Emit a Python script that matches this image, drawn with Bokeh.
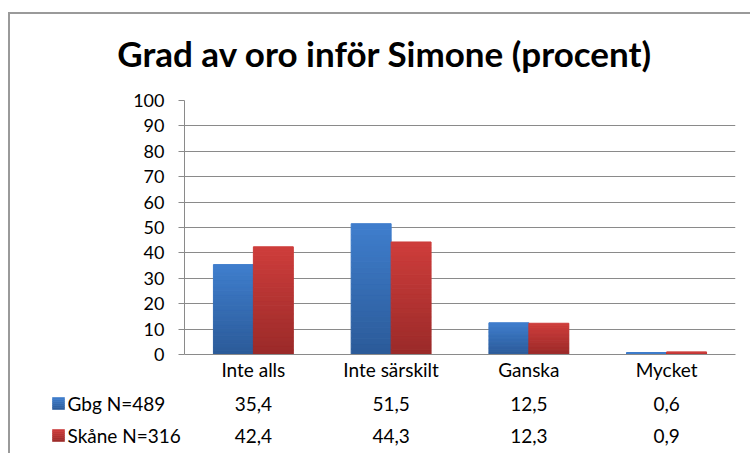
from bokeh.plotting import figure
from bokeh.models import ColumnDataSource, FactorRange, FixedTicker, Range1d
from bokeh.layouts import column, row
from bokeh.transform import dodge
from bokeh.core.properties import value
from bokeh.embed import file_html
from bokeh.resources import INLINE

# ---- data ----
categories = ["Inte alls", "Inte särskilt", "Ganska", "Mycket"]
series_names = ["Gbg N=489", "Skåne N=316"]
gbg = [35.4, 51.5, 12.5, 0.6]
skane = [42.4, 44.3, 12.3, 0.9]
gbg_text = ["35,4", "51,5", "12,5", "0,6"]
skane_text = ["42,4", "44,3", "12,3", "0,9"]
y_ticks = [0, 10, 20, 30, 40, 50, 60, 70, 80, 90, 100]
title_text = "Grad av oro inför Simone (procent)"

FONT = "Lato"
blue_top, blue_bot = (0x3F, 0x7E, 0xCD), (0x2B, 0x5A, 0x98)
red_top, red_bot = (0xCE, 0x3D, 0x3B), (0x9A, 0x2A, 0x29)
GRID = "#8a8a8a"


def hexc(c):
    return "#%02x%02x%02x" % tuple(int(round(v)) for v in c)


def grad(top_c, bot_c, t):
    return hexc(tuple(b + (a - b) * t for a, b in zip(top_c, bot_c)))


def stripes(vals, top_c, bot_c, n=24):
    cats, bots, tops, cols = [], [], [], []
    for cat, v in zip(categories, vals):
        for i in range(n):
            cats.append(cat)
            bots.append(v * i / n)
            tops.append(v * (i + 1) / n)
            cols.append(grad(top_c, bot_c, (i + 0.5) / n))
    return ColumnDataSource(dict(cat=cats, bottom=bots, top=tops, color=cols))


def blank(width, height, x_range, y_range, **kw):
    f = figure(x_range=x_range, y_range=y_range, width=width, height=height,
               output_backend="svg", toolbar_location=None,
               x_axis_location=None, y_axis_location=None,
               min_border_left=kw.get("ml", 0), min_border_right=kw.get("mr", 0),
               min_border_top=0, min_border_bottom=0)
    f.outline_line_color = None
    f.grid.visible = False
    f.border_fill_color = "white"
    return f


TOTAL_W = 742

# ---------------- title ----------------
TTH = 75
ttl = blank(TOTAL_W, TTH, Range1d(0, TOTAL_W), Range1d(0, TTH))
ttl.text(x=[374.5], y=[37], text=[title_text], text_font=value(FONT),
         text_font_style="bold", text_font_size="35px", text_align="center",
         text_baseline="middle", text_color="#000000")

# ---------------- main chart ----------------
CH = 296
x_range = FactorRange(*categories, range_padding=0)
p = figure(x_range=x_range, y_range=(0, 100),
           width=TOTAL_W, height=CH, output_backend="svg", toolbar_location=None,
           min_border_left=174, min_border_right=17, min_border_top=11,
           min_border_bottom=31)
p.outline_line_color = None
p.background_fill_color = "white"
p.border_fill_color = "white"

bw = 0.29
for vals, tc, bc, off in [(gbg, blue_top, blue_bot, -bw / 2), (skane, red_top, red_bot, bw / 2)]:
    p.vbar(x=dodge("cat", off, range=x_range), bottom="bottom", top="top",
           width=bw, source=stripes(vals, tc, bc), fill_color="color",
           line_color="color", line_width=1)

p.yaxis.ticker = FixedTicker(ticks=y_ticks)
p.yaxis.minor_tick_line_color = None
p.yaxis.major_tick_in = 0
p.yaxis.major_tick_out = 6
p.yaxis.major_label_standoff = 14
p.yaxis.axis_line_color = GRID
p.yaxis.major_tick_line_color = GRID
p.yaxis.major_label_text_font = FONT
p.yaxis.major_label_text_font_size = "18px"
p.yaxis.major_label_text_color = "#000000"

p.xaxis.axis_line_color = GRID
p.xaxis.major_tick_line_color = None
p.xaxis.major_tick_out = 0
p.xaxis.major_tick_in = 0
p.xaxis.major_label_standoff = 3
p.xaxis.major_label_text_font = FONT
p.xaxis.major_label_text_font_size = "19px"
p.xaxis.major_label_text_color = "#000000"

p.xgrid.grid_line_color = None
p.ygrid.grid_line_color = GRID
p.ygrid.grid_line_width = 1

# ---------------- data table ----------------
TH = 70
row_y = [1, 0]
y_tab = Range1d(-0.625, 1.5625)

leg = blank(174, TH, Range1d(0, 174), y_tab)
kb, kt, kl, kr, kcol = [], [], [], [], []
half = 6 / 32
for yy, tc, bc in [(row_y[0], blue_top, blue_bot), (row_y[1], red_top, red_bot)]:
    n = 6
    for i in range(n):
        kl.append(42)
        kr.append(54)
        kb.append(yy - half + 2 * half * i / n)
        kt.append(yy - half + 2 * half * (i + 1) / n)
        kcol.append(grad(tc, bc, (i + 0.5) / n))
leg.quad(left=kl, right=kr, bottom=kb, top=kt, fill_color=kcol, line_color=kcol, line_width=0.6)
leg.text(x=[57, 57], y=row_y, text=series_names, text_font=value(FONT),
         text_font_size="19px", text_baseline="middle", text_align="left",
         text_color="#000000")

tab = blank(TOTAL_W - 174, TH, x_range, y_tab, mr=17)
tsrc = ColumnDataSource(dict(cat=categories * 2, y=[row_y[0]] * 4 + [row_y[1]] * 4,
                             txt=gbg_text + skane_text))
tab.text(x="cat", y="y", text="txt", source=tsrc, text_font=value(FONT),
         text_font_size="19px", text_baseline="middle", text_align="center",
         text_color="#000000")

root = column(row(ttl), p, row(leg, tab), margin=(14, 0, 0, 10),
              styles={"box-shadow": "-2px -2px 0 0 #9a9a9a"})

open("out.html", "w").write(file_html(root, INLINE))
